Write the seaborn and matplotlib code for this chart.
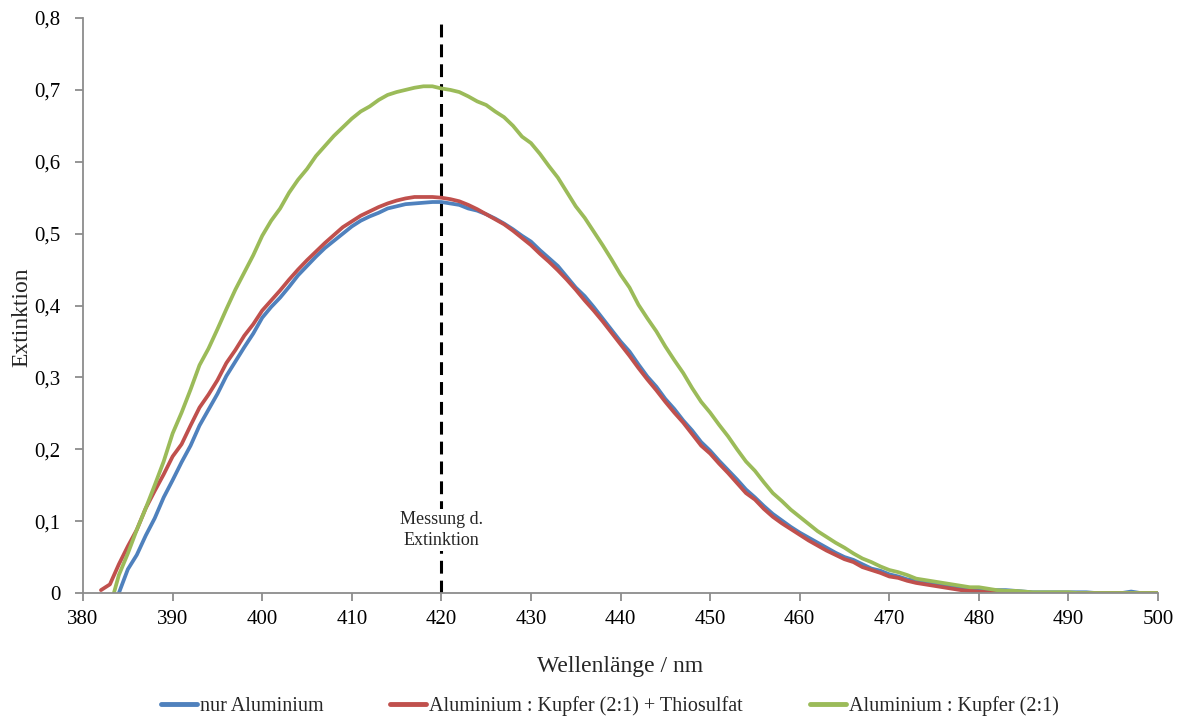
import numpy as np
import pandas as pd
import matplotlib
matplotlib.use("Agg")
import matplotlib.pyplot as plt
from matplotlib.ticker import FuncFormatter, MultipleLocator
import seaborn as sns

# Absorption spectra (Extinktion vs. wavelength in nm)
wl_blue = list(range(384, 501))
ext_blue = [
    0.000, 0.033, 0.053, 0.080, 0.104, 0.133, 0.157, 0.182, 0.205, 0.233,
    0.255, 0.277, 0.302, 0.322, 0.342, 0.361, 0.383, 0.398, 0.411, 0.426,
    0.442, 0.455, 0.468, 0.480, 0.490, 0.500, 0.510, 0.518, 0.524, 0.529,
    0.535, 0.538, 0.541, 0.542, 0.543, 0.544, 0.544, 0.542, 0.540, 0.535,
    0.532, 0.527, 0.521, 0.514, 0.506, 0.497, 0.489, 0.477, 0.466, 0.455,
    0.440, 0.425, 0.413, 0.398, 0.382, 0.366, 0.350, 0.336, 0.318, 0.301,
    0.287, 0.270, 0.256, 0.240, 0.226, 0.210, 0.198, 0.184, 0.171, 0.158,
    0.144, 0.133, 0.121, 0.110, 0.101, 0.092, 0.084, 0.077, 0.070, 0.063,
    0.056, 0.050, 0.046, 0.040, 0.034, 0.031, 0.026, 0.023, 0.019, 0.017,
    0.014, 0.012, 0.010, 0.008, 0.007, 0.005, 0.004, 0.004, 0.004, 0.004,
    0.003, 0.002, 0.001, 0.001, 0.001, 0.001, 0.001, 0.001, 0.001, 0.000,
    0.000, 0.000, 0.000, 0.002, 0.000, 0.000, 0.000,
]

wl_red = list(range(382, 501))
ext_red = [
    0.004, 0.012, 0.040, 0.065, 0.088, 0.118, 0.142, 0.165, 0.190, 0.207,
    0.233, 0.258, 0.276, 0.296, 0.320, 0.338, 0.358, 0.374, 0.393, 0.407,
    0.421, 0.436, 0.450, 0.463, 0.475, 0.487, 0.498, 0.509, 0.517, 0.525,
    0.531, 0.537, 0.542, 0.546, 0.549, 0.551, 0.551, 0.551, 0.550, 0.548,
    0.545, 0.540, 0.534, 0.527, 0.520, 0.513, 0.504, 0.494, 0.484, 0.472,
    0.461, 0.449, 0.436, 0.422, 0.407, 0.393, 0.378, 0.362, 0.346, 0.330,
    0.313, 0.297, 0.282, 0.266, 0.251, 0.237, 0.221, 0.205, 0.194, 0.180,
    0.167, 0.153, 0.139, 0.130, 0.117, 0.106, 0.097, 0.089, 0.081, 0.073,
    0.066, 0.059, 0.053, 0.047, 0.043, 0.036, 0.032, 0.028, 0.023, 0.021,
    0.017, 0.014, 0.012, 0.010, 0.008, 0.006, 0.004, 0.003, 0.002, 0.001,
    0.000, 0.000, 0.000, 0.000, 0.000, 0.000, 0.000, 0.000, 0.000, 0.000,
    0.000, 0.000, 0.000, 0.000, 0.000, 0.000, 0.000, 0.000, 0.000,
]

wl_green = list(range(383, 501))
ext_green = [
    -0.020, 0.025, 0.055, 0.088, 0.118, 0.150, 0.183, 0.222, 0.251, 0.283,
    0.317, 0.340, 0.367, 0.395, 0.422, 0.446, 0.470, 0.497, 0.518, 0.535,
    0.557, 0.575, 0.590, 0.608, 0.622, 0.636, 0.648, 0.660, 0.670, 0.677,
    0.686, 0.693, 0.697, 0.700, 0.703, 0.705, 0.705, 0.702, 0.700, 0.697,
    0.691, 0.684, 0.679, 0.670, 0.662, 0.650, 0.635, 0.626, 0.611, 0.594,
    0.578, 0.558, 0.538, 0.522, 0.503, 0.484, 0.464, 0.443, 0.425, 0.401,
    0.382, 0.364, 0.343, 0.324, 0.306, 0.285, 0.266, 0.251, 0.234, 0.218,
    0.200, 0.183, 0.170, 0.154, 0.139, 0.128, 0.116, 0.106, 0.096, 0.086,
    0.078, 0.070, 0.063, 0.055, 0.048, 0.043, 0.037, 0.032, 0.029, 0.025,
    0.020, 0.018, 0.016, 0.014, 0.012, 0.010, 0.008, 0.008, 0.006, 0.004,
    0.003, 0.003, 0.002, 0.001, 0.001, 0.001, 0.001, 0.001, 0.000, 0.000,
    0.000, 0.000, 0.000, 0.000, 0.000, 0.000, 0.000, 0.000,
]

series_names = [
    "nur Aluminium",
    "Aluminium : Kupfer (2:1) + Thiosulfat",
    "Aluminium : Kupfer (2:1)",
]
series_colors = ["#4F81BD", "#C0504D", "#9BBB59"]
measure_wl = 420

df = pd.concat([
    pd.DataFrame({"wl": wl_blue, "ext": ext_blue, "probe": series_names[0]}),
    pd.DataFrame({"wl": wl_red, "ext": ext_red, "probe": series_names[1]}),
    pd.DataFrame({"wl": wl_green, "ext": ext_green, "probe": series_names[2]}),
], ignore_index=True)

sns.set_theme(style="white")
plt.rcParams["font.family"] = ["Liberation Serif", "DejaVu Serif"]

fig = plt.figure(figsize=(11.83, 7.18), dpi=100)
ax = fig.add_axes([0.0702, 0.1741, 0.9087, 0.8008])

sns.lineplot(data=df, x="wl", y="ext", hue="probe", hue_order=series_names,
             palette=series_colors, linewidth=2.7, ax=ax, sort=False,
             estimator=None)

# measurement wavelength marker
ax.axvline(measure_wl, color="black", linestyle=(0, (4.2, 2.3)), linewidth=2.2,
           zorder=1)
ax.text(measure_wl, 0.088, "Messung d.\nExtinktion", ha="center", va="center",
        fontsize=13, linespacing=1.3, zorder=5,
        bbox=dict(facecolor="white", edgecolor="none", pad=1.5))

ax.set_xlim(380, 500)
ax.set_ylim(0, 0.8)
ax.xaxis.set_major_locator(MultipleLocator(10))
ax.yaxis.set_major_locator(MultipleLocator(0.1))
ax.yaxis.set_major_formatter(FuncFormatter(
    lambda v, _: "0" if abs(v) < 1e-9 else f"{v:.1f}".replace(".", ",")))

for side in ("top", "right"):
    ax.spines[side].set_visible(False)
for side in ("left", "bottom"):
    ax.spines[side].set_color("#8C8C8C")
    ax.spines[side].set_linewidth(1.3)
ax.tick_params(axis="both", which="major", direction="out", length=6,
               width=1.3, color="#8C8C8C", labelsize=15, labelcolor="black",
               bottom=True, left=True)
ax.tick_params(axis="y", pad=10)
ax.tick_params(axis="x", pad=6)

ax.set_xlabel("Wellenlänge / nm", fontsize=17, labelpad=20)
ax.set_ylabel("Extinktion", fontsize=17)
ax.yaxis.set_label_coords(-0.047, 0.48)

sns.move_legend(ax, "center", bbox_to_anchor=(0.49, -0.196), ncol=3,
                frameon=False, title=None, fontsize=14.5, handlelength=1.8,
                handletextpad=0.15, columnspacing=3.3)
for line in ax.get_legend().get_lines():
    line.set_linewidth(3.5)

fig.savefig("out.png", dpi=100, facecolor="white")
